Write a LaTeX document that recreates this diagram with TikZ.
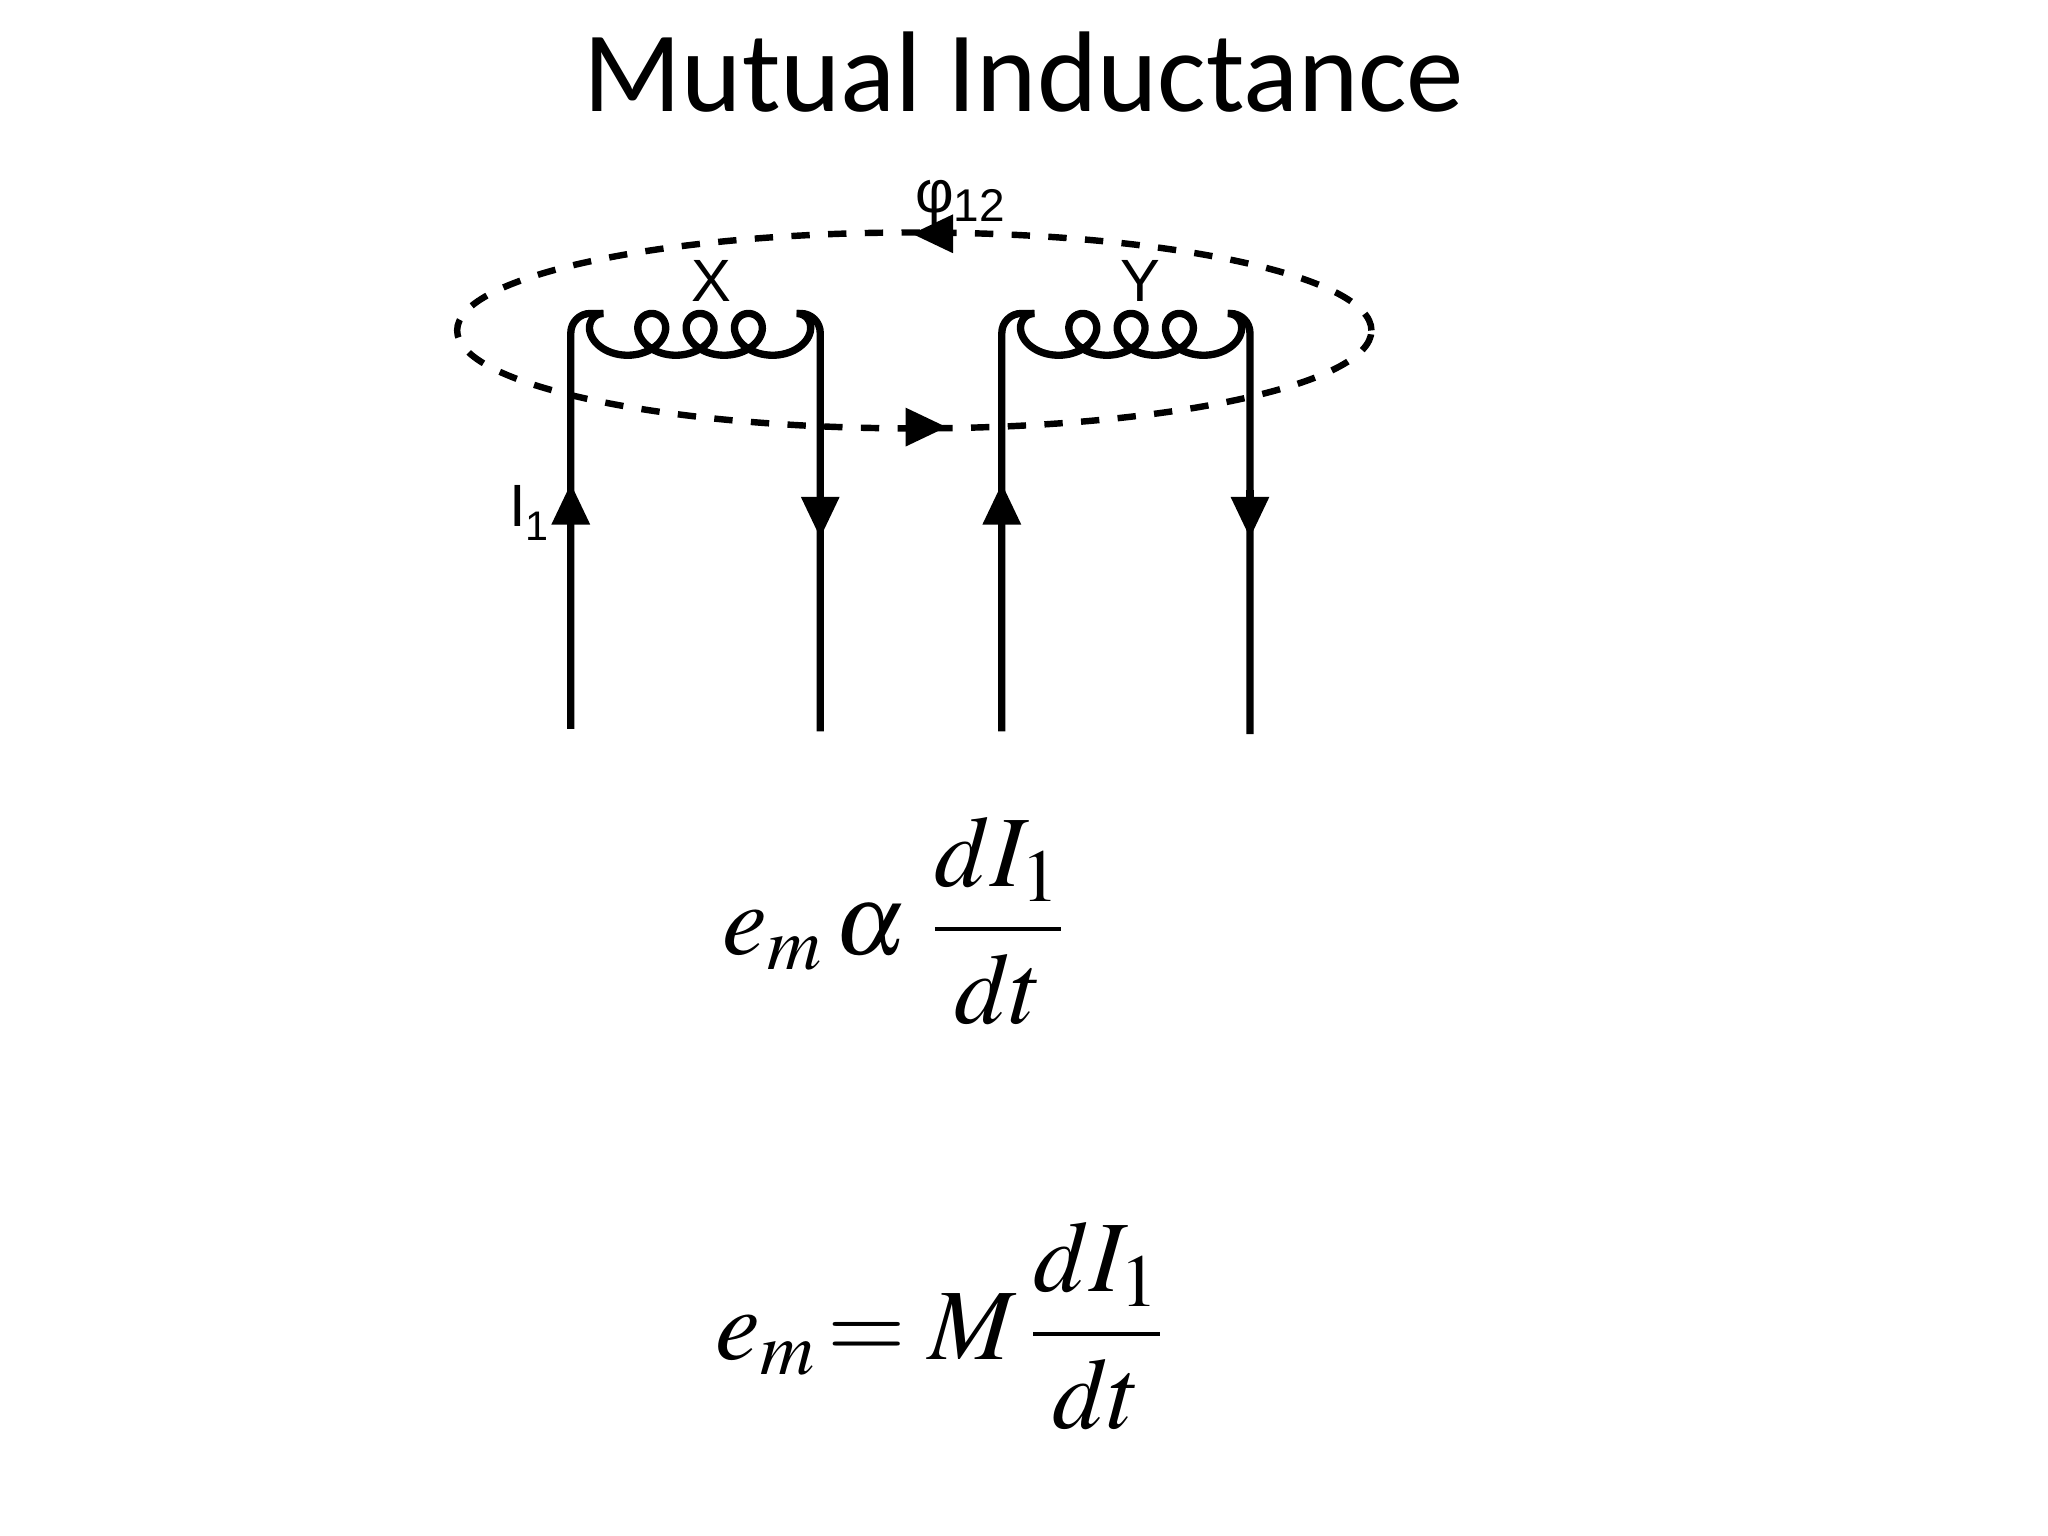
\documentclass[tikz,border=0pt]{standalone}
\usepackage{mathptmx}
\usepackage{fontspec}
\newfontfamily\titlefont{Carlito}
\newfontfamily\lab{Liberation Sans}
\usetikzlibrary{arrows.meta}
\begin{document}
\begin{tikzpicture}[
  wire/.style={line width=1.6pt},
  tip/.style={-{Triangle[length=9pt,width=8pt]},line width=1.6pt},
  flux/.style={line width=1.4pt,dash pattern=on 4pt off 4pt}]
\useasboundingbox (0,0) rectangle (15.68,-11.76);
\fill[white] (0,0) rectangle (15.68,-11.76);
\node (title) at (7.84,-0.55) {\titlefont\fontsize{25}{30}\selectfont Mutual Inductance};
% flux
\draw[flux] (7.0,-2.53) ellipse [x radius=3.5, y radius=0.75];
\draw[tip] (7.25,-1.79) -- (6.98,-1.79);
\draw[tip] (6.95,-3.27) -- (7.25,-3.27);
% coil X
\draw[wire] (4.37,-5.58) -- (4.37,-2.55) arc[start angle=180,end angle=90,radius=0.15]
  -- (4.62,-2.40);
\draw[wire,domain=0:1440,samples=240,smooth,variable=\t]
  plot ({4.62+0.37*\t/360-0.19*sin(\t)},{-2.40-0.16*(1-cos(\t))});
\draw[wire] (6.10,-2.40) -- (6.13,-2.40) arc[start angle=90,end angle=0,radius=0.15] -- (6.28,-5.60);
% coil Y
\draw[wire] (7.67,-5.60) -- (7.67,-2.55) arc[start angle=180,end angle=90,radius=0.15]
  -- (7.92,-2.40);
\draw[wire,domain=0:1440,samples=240,smooth,variable=\t]
  plot ({7.92+0.37*\t/360-0.19*sin(\t)},{-2.40-0.16*(1-cos(\t))});
\draw[wire] (9.40,-2.40) -- (9.42,-2.40) arc[start angle=90,end angle=0,radius=0.15] -- (9.57,-5.62);
% current arrows
\draw[tip] (4.37,-4.05) -- (4.37,-3.70);
\draw[tip] (6.28,-3.75) -- (6.28,-4.12);
\draw[tip] (7.67,-4.05) -- (7.67,-3.70);
\draw[tip] (9.57,-3.75) -- (9.57,-4.12);
% labels
\node (lx) at (5.45,-2.15) {\lab\fontsize{13}{15}\selectfont X};
\node (ly) at (8.73,-2.15) {\lab\fontsize{13}{15}\selectfont Y};
\node (lphi) at (7.35,-1.55) {\lab\fontsize{13}{15}\selectfont φ\raisebox{-2pt}{\fontsize{10}{12}\selectfont 12}};
\node (li) at (4.05,-3.93) {\lab\fontsize{13}{15}\selectfont I\raisebox{-3pt}{\fontsize{9}{10}\selectfont 1}};
% equations
\node (eq1) at (6.85,-7.05) {\fontsize{22}{26}\selectfont $\displaystyle e_m\,\alpha\;\frac{dI_1}{dt}$};
\node (eq2) at (7.20,-10.15) {\fontsize{22}{26}\selectfont $\displaystyle e_m\!=M\,\frac{dI_1}{dt}$};
\end{tikzpicture}
\end{document}
